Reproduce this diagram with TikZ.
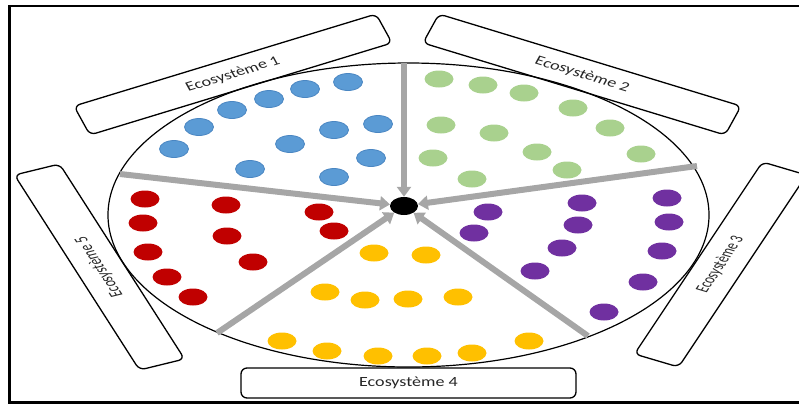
\documentclass[tikz,border=0pt]{standalone}
\usepackage{fontspec}
\setmainfont{Carlito}
\usetikzlibrary{arrows.meta,shapes.geometric}
\definecolor{cblue}{HTML}{5B9BD5}
\definecolor{cblueedge}{HTML}{4A86C2}
\definecolor{cgreen}{HTML}{A9D18E}
\definecolor{cred}{HTML}{C00000}
\definecolor{cyellow}{HTML}{FFC000}
\definecolor{cpurple}{HTML}{7030A0}
\definecolor{cgray}{HTML}{A6A6A6}
\definecolor{ctext}{HTML}{262626}
\tikzset{
  flow/.style={draw=cgray, line width=6pt, -{Triangle[width=14pt,length=10pt]}},
  lblbox/.style={draw=black, line width=1.3pt, rounded corners=6pt},
  lbltext/.style={transform shape, font=\fontsize{14}{16}\selectfont, text=ctext, inner sep=0pt},
  hubdot/.style={ellipse, fill=black, minimum width=28pt, minimum height=18pt, inner sep=0pt},
}
\newcommand{\dotset}[2]{%
  \foreach \px/\py in {#2} {\fill[#1] (\px,\py) ellipse [x radius=14.5pt, y radius=8.5pt];}}
\begin{document}
\begin{tikzpicture}[x=1pt,y=-1pt]
\useasboundingbox (0,0) rectangle (799,405);
\clip (0,0) rectangle (799,405);
% coloured dots
\dotset{cblue, draw=cblueedge, line width=0.8pt}{348/82,305/89,269/99,232/110,199/127,174/149,290/144,334/130,378/124,371/158,250/169,334/177}
\dotset{cgreen}{439/79,483/85,524/93,573/108,610/128,641/154,441/125,494/133,537/152,567/170,433/158,472/179}
\dotset{cred}{145/199,226/205,319/212,143/223,227/236,334/231,148/252,253/262,167/277,193/297}
\dotset{cyellow}{374/253,426/255,325/292,365/300,408/299,458/297,282/341,327/351,378/356,427/356,472/353,529/341}
\dotset{cpurple}{488/212,474/233,582/203,578/225,562/248,535/271,667/198,669/222,662/251,643/282,604/312}
% big ellipse
\draw[line width=1.2pt] (408.5,215) ellipse [x radius=300.5pt, y radius=152pt];
% hub and arrows
\node[hubdot] (hub) at (404,206) {};
\coordinate (s1) at (404,63);
\coordinate (s2) at (697,166);
\coordinate (s3) at (588,336);
\coordinate (s4) at (217,333);
\coordinate (s5) at (120,174);
\draw[flow] (s1) -- (hub);
\draw[flow] (s2) -- (hub);
\draw[flow] (s3) -- (hub);
\draw[flow] (s4) -- (hub);
\draw[flow] (s5) -- (hub);
% label boxes
\begin{scope}[shift={(233,74.5)}, cm={0.9566,0.2914,-0.483,0.876,(0,0)}]
  \draw[lblbox] (-157.9pt,-16.5pt) -- (157.9pt,-16.5pt) -- (157.9pt,16.5pt) -- (-157.9pt,16.5pt) -- cycle;
  \node[lbltext, xscale=1.265] (t1) at (0,0) {Ecosystème 1};
\end{scope}
\begin{scope}[shift={(582,74.5)}, cm={0.9566,-0.2914,0.483,0.876,(0,0)}]
  \draw[lblbox] (-157.9pt,-16.5pt) -- (157.9pt,-16.5pt) -- (157.9pt,16.5pt) -- (-157.9pt,16.5pt) -- cycle;
  \node[lbltext, xscale=1.27] (t2) at (0,0) {Ecosystème 2};
\end{scope}
\begin{scope}[shift={(720.5,264.5)}, cm={0.5546,0.8319,-0.9586,0.2832,(0,0)}]
  \draw[lblbox] (-115.4pt,-23pt) -- (115.4pt,-23pt) -- (115.4pt,23pt) -- (-115.4pt,23pt) -- cycle;
  \node[lbltext, xscale=0.88, yscale=1.3] (t3) at (0,0) {Ecosystème 3};
\end{scope}
\begin{scope}[shift={(408.5,383)}]
  \draw[lblbox] (-167.5pt,-15pt) -- (167.5pt,-15pt) -- (167.5pt,15pt) -- (-167.5pt,15pt) -- cycle;
  \node[lbltext, xscale=1.29] (t4) at (0,0) {Ecosystème 4};
\end{scope}
\begin{scope}[shift={(99.5,267)}, cm={-0.5397,0.8419,-0.9714,-0.2375,(0,0)}]
  \draw[lblbox] (-115.8pt,-23.2pt) -- (115.8pt,-23.2pt) -- (115.8pt,23.2pt) -- (-115.8pt,23.2pt) -- cycle;
  \node[lbltext, xscale=0.92, yscale=1.3] (t5) at (0,0) {Ecosystème 5};
\end{scope}
% outer frame
\draw[line width=2.4pt] (9.5,6.2) rectangle (830,402.5);
\end{tikzpicture}
\end{document}
